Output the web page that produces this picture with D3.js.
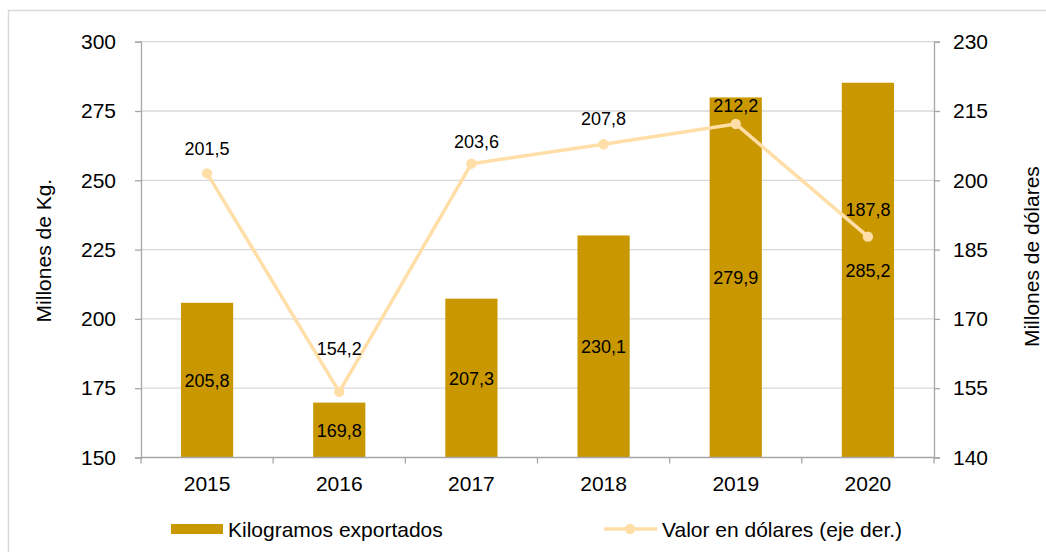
<!DOCTYPE html>
<html>
<head>
<meta charset="utf-8">
<script src="https://cdn.jsdelivr.net/npm/d3@7/dist/d3.min.js"></script>
<style>
  html, body { margin: 0; padding: 0; background: #fff; }
  svg { display: block; font-family: "Liberation Sans", Arial, sans-serif; }
</style>
</head>
<body>
<svg id="chart" width="1046" height="552"></svg>
<script>
// Exportaciones: volumen (eje izq.) y valor (eje der.)
const years = ["2015", "2016", "2017", "2018", "2019", "2020"];
const kilos = [205.8, 169.8, 207.3, 230.1, 279.9, 285.2];
const dolares = [201.5, 154.2, 203.6, 207.8, 212.2, 187.8];
const leftTicks = [150, 175, 200, 225, 250, 275, 300];
const rightTicks = [140, 155, 170, 185, 200, 215, 230];
const seriesNames = ["Kilogramos exportados", "Valor en dólares (eje der.)"];

const barColor = "#C99700";
const lineColor = "#FFDEA8";
const gridColor = "#D9D9D9";
const axisColor = "#A6A6A6";
const fmt = v => d3.format(".1f")(v).replace(".", ",");

const svg = d3.select("#chart");
const m = { left: 141, right: 934, top: 41.7, bottom: 457.5 };

// chart frame
svg.append("rect")
  .attr("x", 8.5).attr("y", 10.5)
  .attr("width", 1100).attr("height", 600)
  .attr("fill", "none").attr("stroke", "#D9D9D9").attr("stroke-width", 1.5);

const x = d3.scaleBand().domain(years).range([m.left, m.right]).paddingInner(0.605).paddingOuter(0.3025);
const band = d3.scaleBand().domain(years).range([m.left, m.right]);
const yL = d3.scaleLinear().domain([150, 300]).range([m.bottom, m.top]);
const yR = d3.scaleLinear().domain([140, 230]).range([m.bottom, m.top]);

// gridlines
svg.append("g").selectAll("line").data(leftTicks.slice(1)).join("line")
  .attr("x1", m.left).attr("x2", m.right)
  .attr("y1", d => yL(d)).attr("y2", d => yL(d))
  .attr("stroke", gridColor).attr("stroke-width", 1.3);

// bars
svg.append("g").selectAll("rect").data(kilos).join("rect")
  .attr("x", (d, i) => x(years[i]))
  .attr("width", x.bandwidth())
  .attr("y", d => yL(d))
  .attr("height", d => yL(150) - yL(d))
  .attr("fill", barColor);

// left axis
const gL = svg.append("g").attr("transform", `translate(${m.left},0)`)
  .call(d3.axisLeft(yL).tickValues(leftTicks).tickSize(6).tickPadding(19));
// right axis
const gR = svg.append("g").attr("transform", `translate(${m.right},0)`)
  .call(d3.axisRight(yR).tickValues(rightTicks).tickSize(6).tickPadding(13));
[gL, gR].forEach(g => {
  g.select(".domain").attr("stroke", axisColor).attr("stroke-width", 1.3);
  g.selectAll(".tick line").attr("stroke", axisColor).attr("stroke-width", 1.3);
  g.selectAll(".tick text").attr("font-size", 21).attr("fill", "#000")
    .attr("font-family", "Liberation Sans, Arial, sans-serif");
});

// bottom axis: ticks sit on the category boundaries
const gB = svg.append("g").attr("transform", `translate(0,${m.bottom})`);
gB.append("line").attr("x1", m.left).attr("x2", m.right)
  .attr("stroke", axisColor).attr("stroke-width", 1.3);
const bounds = years.map(y => band(y)).concat([m.right]);
gB.selectAll("line.tk").data(bounds).join("line").attr("class", "tk")
  .attr("x1", d => d).attr("x2", d => d).attr("y1", 0).attr("y2", 6)
  .attr("stroke", axisColor).attr("stroke-width", 1.3);
gB.selectAll("text").data(years).join("text")
  .attr("x", d => band(d) + band.bandwidth() / 2)
  .attr("y", 33)
  .attr("text-anchor", "middle").attr("font-size", 21).attr("fill", "#000")
  .text(d => d);

// bar value labels (centred in the bar)
svg.append("g").selectAll("text").data(kilos).join("text")
  .attr("x", (d, i) => x(years[i]) + x.bandwidth() / 2)
  .attr("y", d => (yL(d) + yL(150)) / 2 + 6.5)
  .attr("text-anchor", "middle").attr("font-size", 18).attr("fill", "#000")
  .text(d => fmt(d));

// value line
const line = d3.line().x((d, i) => band(years[i]) + band.bandwidth() / 2).y(d => yR(d));
svg.append("path").datum(dolares)
  .attr("d", line).attr("fill", "none")
  .attr("stroke", lineColor).attr("stroke-width", 3.5).attr("stroke-linejoin", "round");
svg.append("g").selectAll("circle").data(dolares).join("circle")
  .attr("cx", (d, i) => band(years[i]) + band.bandwidth() / 2)
  .attr("cy", d => yR(d))
  .attr("r", 5.2).attr("fill", lineColor);

// line labels above the points
const lift = [25, 43, 22, 26, 18, 27];
const shift = [0, 0, 5, 0, 0, 0];
svg.append("g").selectAll("text").data(dolares).join("text")
  .attr("x", (d, i) => band(years[i]) + band.bandwidth() / 2 + shift[i])
  .attr("y", (d, i) => yR(d) - lift[i] + 6.5)
  .attr("text-anchor", "middle").attr("font-size", 18).attr("fill", "#000")
  .text(d => fmt(d));

// axis titles
svg.append("text")
  .attr("transform", `translate(51,${(m.top + m.bottom) / 2 + 1}) rotate(-90)`)
  .attr("text-anchor", "middle").attr("font-size", 21).attr("fill", "#000")
  .text("Millones de Kg.");
svg.append("text")
  .attr("transform", `translate(1039,${(m.top + m.bottom) / 2 + 7}) rotate(-90)`)
  .attr("text-anchor", "middle").attr("font-size", 21).attr("fill", "#000")
  .text("Millones de dólares");

// legend
const lg = svg.append("g");
lg.append("rect").attr("x", 171).attr("y", 524).attr("width", 52).attr("height", 10).attr("fill", barColor);
lg.append("text").attr("x", 228).attr("y", 536.5).attr("font-size", 21).attr("fill", "#000").text(seriesNames[0]);
lg.append("line").attr("x1", 604).attr("x2", 657).attr("y1", 529).attr("y2", 529)
  .attr("stroke", lineColor).attr("stroke-width", 3.5);
lg.append("circle").attr("cx", 630).attr("cy", 529).attr("r", 5.2).attr("fill", lineColor);
lg.append("text").attr("x", 662).attr("y", 536.5).attr("font-size", 21).attr("fill", "#000").text(seriesNames[1]);
</script>
</body>
</html>
